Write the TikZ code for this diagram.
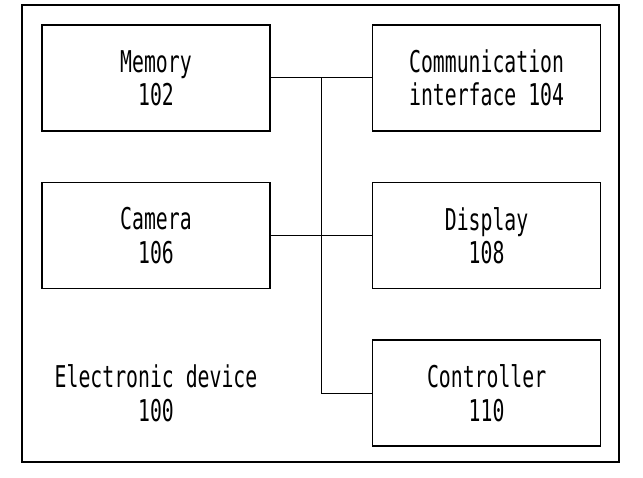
\documentclass[tikz,border=0pt]{standalone}
\usepackage{fontspec}
\newfontfamily\blockfont[FakeStretch=0.66]{DejaVu Sans Mono}
\usetikzlibrary{positioning}

\begin{document}
\begin{tikzpicture}[x=1pt, y=1pt, node distance=50pt and 101pt,
    every node/.style={font=\blockfont\fontsize{30}{33.3}\selectfont},
    block/.style={draw, line width=1.6pt, minimum width=228pt, minimum height=106pt, inner sep=0pt, align=center},
    bus/.style={line width=1pt}]
    \useasboundingbox (0,0) rectangle (643,478);
    % enclosing device
    \draw[line width=1.4pt] (22,16) rectangle (619,473);
    % blocks
    \node[block] (mem) at (156,400) {Memory\\102};
    \node[block, right=of mem] (comm) {Communication\\interface 104};
    \node[block, below=of mem] (cam) {Camera\\106};
    \node[block, right=of cam] (disp) {Display\\108};
    \node[block, below=of disp] (ctrl) {Controller\\110};
    \node[align=center] (dev) at (cam.center |- ctrl.center) {Electronic device\\100};
    % bus lines
    \coordinate (busx) at (321,0);
    \draw[bus] (mem.east) -- (comm.west);
    \draw[bus] (cam.east) -- (disp.west);
    \draw[bus] (mem.east -| busx) -- (ctrl.west -| busx) -- (ctrl.west);
\end{tikzpicture}
\end{document}
